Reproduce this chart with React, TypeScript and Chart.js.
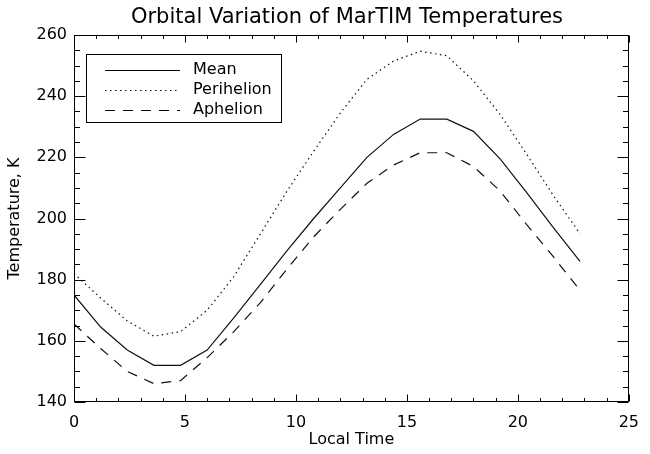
import React, { useEffect, useRef } from "react";
import { Chart, registerables } from "chart.js";

Chart.register(...registerables);

const titleText = "Orbital Variation of MarTIM Temperatures";
const xAxisTitle = "Local Time";
const yAxisTitle = "Temperature, K";

const localTime = [0, 1.2, 2.4, 3.6, 4.8, 6.0, 7.2, 8.4, 9.6, 10.8, 12.0, 13.2, 14.4, 15.6, 16.8, 18.0, 19.2, 20.4, 21.6, 22.8];
const meanTemp = [175, 164.5, 157, 152, 152, 157, 167.5, 178.5, 189.5, 200, 210, 220, 227.5, 232.5, 232.5, 228.5, 219.5, 208.5, 197, 186];
const perihelionTemp = [182, 174, 166.5, 161.5, 163, 170, 181, 195, 209, 222, 234.5, 245.5, 251.5, 254.7, 253.2, 245, 234, 221, 207.5, 195];
const aphelionTemp = [165.5, 157.5, 150, 146, 147, 154.5, 163, 172.5, 183.5, 194, 203, 211.5, 217.5, 221.5, 221.5, 217, 209, 198, 187.5, 176.5];

const seriesLabels = ["Mean", "Perihelion", "Aphelion"];

const xMin = 0, xMax = 25, xStep = 5, xMinor = 1;
const yMin = 140, yMax = 260, yStep = 20, yMinor = 5;

const FONT = "'DejaVu Sans', sans-serif";

const pts = (ys: number[]) => localTime.map((x, i) => ({ x, y: ys[i] }));

const framePlugin = {
  id: "frame",
  afterDraw(chart: any) {
    const { ctx, chartArea: ca, scales } = chart;
    const xs = scales.x, ys = scales.y;
    ctx.save();
    ctx.strokeStyle = "#000";
    ctx.lineWidth = 1;
    ctx.setLineDash([]);
    const L = Math.round(ca.left) + 0.5, R = Math.round(ca.right) - 0.5;
    const T = Math.round(ca.top) + 0.5, B = Math.round(ca.bottom) - 0.5;
    ctx.strokeRect(L, T, R - L, B - T);
    ctx.beginPath();
    for (let v = xMin; v <= xMax + 1e-9; v += xMinor) {
      const major = Math.abs(v % xStep) < 1e-9;
      const len = major ? 7 : 3.5;
      const px = Math.round(xs.getPixelForValue(v)) + 0.5;
      ctx.moveTo(px, B); ctx.lineTo(px, B - len);
      ctx.moveTo(px, T); ctx.lineTo(px, T + len);
    }
    for (let v = yMin; v <= yMax + 1e-9; v += yMinor) {
      const major = Math.abs((v - yMin) % yStep) < 1e-9;
      const len = major ? 11 : 5.5;
      const py = Math.round(ys.getPixelForValue(v)) + 0.5;
      ctx.moveTo(L, py); ctx.lineTo(L + len, py);
      ctx.moveTo(R, py); ctx.lineTo(R - len, py);
    }
    ctx.stroke();

    // title
    ctx.fillStyle = "#000";
    ctx.font = `21px ${FONT}`;
    ctx.textAlign = "center";
    ctx.textBaseline = "middle";
    ctx.fillText(titleText, 347, 18);

    // legend
    ctx.strokeRect(86.5, 54.5, 195, 68);
    const rows = [70, 90, 110];
    chart.data.datasets.forEach((ds: any, i: number) => {
      const y = rows[i] + 0.5;
      ctx.setLineDash(ds.borderDash || []);
      ctx.beginPath();
      ctx.moveTo(105, y);
      ctx.lineTo(180, y);
      ctx.stroke();
      ctx.setLineDash([]);
      ctx.font = `16px ${FONT}`;
      ctx.textAlign = "left";
      ctx.fillText(ds.label, 193, rows[i]);
    });
    ctx.restore();
  },
};

export default function App() {
  const ref = useRef<HTMLCanvasElement | null>(null);
  useEffect(() => {
    if (!ref.current) return;
    const chart = new Chart(ref.current, {
      type: "line",
      data: {
        datasets: [
          { label: seriesLabels[0], data: pts(meanTemp), borderColor: "#111", borderWidth: 1.2, borderDash: [] },
          { label: seriesLabels[1], data: pts(perihelionTemp), borderColor: "#111", borderWidth: 1.2, borderDash: [1.5, 3.5] },
          { label: seriesLabels[2], data: pts(aphelionTemp), borderColor: "#111", borderWidth: 1.2, borderDash: [10, 8] },
        ],
      },
      options: {
        animation: false,
        responsive: false,
        devicePixelRatio: 1,
        layout: { padding: { left: 0, right: 11, top: 35, bottom: 0 } },
        elements: { point: { radius: 0 }, line: { tension: 0 } },
        plugins: { legend: { display: false }, title: { display: false }, tooltip: { enabled: false } },
        scales: {
          x: {
            type: "linear",
            min: xMin,
            max: xMax,
            ticks: { stepSize: xStep, padding: 11, color: "#000", font: { family: FONT, size: 16 }, maxRotation: 0 },
            grid: { display: false, drawTicks: false },
            border: { display: false },
            title: { display: true, text: xAxisTitle, color: "#000", font: { family: FONT, size: 16 }, padding: { top: 0, bottom: 5 } },
            afterFit: (s: any) => { s.height = 52; },
          },
          y: {
            type: "linear",
            min: yMin,
            max: yMax,
            ticks: { stepSize: yStep, padding: 7, color: "#000", font: { family: FONT, size: 16 } },
            grid: { display: false, drawTicks: false },
            border: { display: false },
            title: { display: true, text: yAxisTitle, color: "#000", font: { family: FONT, size: 16 }, padding: { top: 5, bottom: 0 } },
            afterFit: (s: any) => { s.width = 74; },
          },
        },
      },
      plugins: [framePlugin],
    } as any);
    return () => chart.destroy();
  }, []);
  return (
    <div style={{ position: "fixed", left: 0, top: 0, width: 650, height: 454, background: "#fff" }}>
      <canvas ref={ref} width={650} height={454} style={{ width: 650, height: 454, display: "block" }} />
    </div>
  );
}
